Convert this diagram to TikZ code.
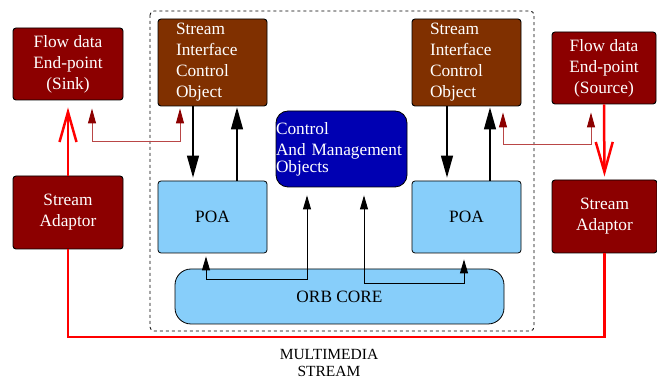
\documentclass[tikz,border=0pt]{standalone}
\usepackage{fontspec}
\setmainfont{Liberation Serif}
\usetikzlibrary{arrows.meta}
\definecolor{sinkred}{RGB}{140,0,0}
\definecolor{sicobrown}{RGB}{128,48,0}
\definecolor{ctrlblue}{RGB}{0,0,178}
\definecolor{poablue}{RGB}{135,206,250}
\definecolor{linkred}{RGB}{185,70,70}
\begin{document}
\begin{tikzpicture}[x=1pt, y=-1pt,
  font=\fontsize{17.3}{21}\selectfont,
  redbox/.style={draw, line width=0.9pt, rounded corners=3pt, fill=sinkred, text=white, align=center, minimum width=110pt, minimum height=72pt, inner sep=0pt},
  sicobox/.style={draw, line width=0.9pt, rounded corners=3pt, fill=sicobrown, text=white, align=left, text width=73pt, minimum width=109pt, minimum height=87pt, inner sep=0pt},
  poabox/.style={draw, line width=0.8pt, rounded corners=3pt, fill=poablue, minimum width=109pt, minimum height=72pt, inner sep=0pt},
  streamarrow/.style={red, line width=2.5pt, -{Straight Barb[length=30pt, width=17pt]}},
  linkarrow/.style={linkred, line width=0.9pt, {Triangle[length=15pt, width=8pt, color=sinkred]}-{Triangle[length=15pt, width=8pt, color=sinkred]}},
  callarrow/.style={line width=1.3pt, -{Triangle[length=22pt, width=12pt]}},
  orbarrow/.style={line width=0.9pt, {Triangle[length=14pt, width=8pt]}-{Triangle[length=14pt, width=8pt]}}]
\useasboundingbox (0,0) rectangle (657,379);
\draw[dashed, line width=0.8pt, rounded corners=4pt] (150,11) rectangle (534,331);
\node[redbox] (sink) at (68,64) {Flow data\\End-point\\(Sink)};
\node[redbox, minimum width=104pt] (source) at (604,68) {Flow data\\End-point\\(Source)};
\node[redbox, minimum height=73pt] (adL) at (68,212.5) {Stream\\Adaptor};
\node[redbox, minimum width=105pt, minimum height=73pt] (adR) at (604.5,216.5) {Stream\\Adaptor};
\node[sicobox] (sicoL) at (212.5,62.5) {Stream\\Interface\\Control\\Object};
\node[sicobox] (sicoR) at (466.5,62.5) {Stream\\Interface\\Control\\Object};
\node[draw, line width=0.8pt, rounded corners=12pt, fill=ctrlblue, text=white, align=left, text width=131pt, minimum width=131pt, minimum height=76pt, inner sep=0pt] (ctrl) at (341.5,149) {Control\\And Management\\[-4pt]Objects};
\node[poabox] (poaL) at (212.5,217) {POA};
\node[poabox] (poaR) at (466.5,217) {POA};
\node[draw, line width=0.8pt, rounded corners=16pt, fill=poablue, minimum width=329pt, minimum height=55pt, inner sep=0pt] (orb) at (339.5,296.5) {ORB CORE};
\node[align=center, font=\fontsize{15.5}{17}\selectfont] (mm) at (329,363) {MULTIMEDIA\\STREAM};
\coordinate (low) at (335,337);
% media stream
\draw[streamarrow, shorten >=7pt] (adL.north) -- (sink.south);
\draw[streamarrow, shorten >=3pt] (source.south) -- (adR.north);
\draw[red, line width=2.5pt] (adL.south) |- (low) -| (adR.south);
% control links
\draw[linkarrow, shorten <=8pt, shorten >=2pt] ([xshift=24pt]sink.south) -- ++(0,41) -| ([xshift=-32.5pt]sicoL.south);
\draw[linkarrow, shorten <=6pt, shorten >=8pt] ([xshift=36.5pt]sicoR.south) -- ++(0,38) -| ([xshift=-13pt]source.south);
% sico <-> poa
\draw[callarrow, shorten >=3pt] ([xshift=-19.5pt]sicoL.south) -- ([xshift=-19.5pt]poaL.north);
\draw[callarrow, shorten >=1pt] ([xshift=24.5pt]poaL.north) -- ([xshift=24.5pt]sicoL.south);
\draw[callarrow, shorten >=3pt] ([xshift=-19.5pt]sicoR.south) -- ([xshift=-19.5pt]poaR.north);
\draw[callarrow, shorten >=1pt] ([xshift=23.5pt]poaR.north) -- ([xshift=23.5pt]sicoR.south);
% orb links
\draw[orbarrow, shorten <=8pt, shorten >=3pt] ([xshift=-34.5pt]ctrl.south) -- ++(0,92) -| ([xshift=-6.5pt]poaL.south);
\draw[orbarrow, shorten <=8pt, shorten >=6pt] ([xshift=22.5pt]ctrl.south) -- ++(0,96) -| ([xshift=-2.5pt]poaR.south);
\end{tikzpicture}
\end{document}
